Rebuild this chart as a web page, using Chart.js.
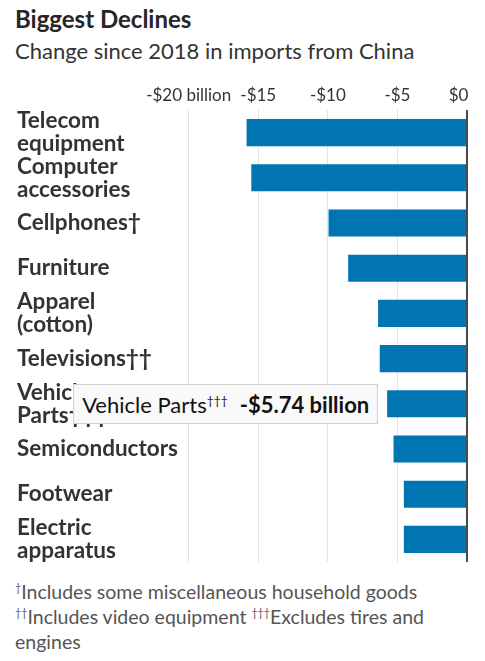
<!DOCTYPE html>
<html lang="en">
<head>
    <meta charset="UTF-8">
    <title>Biggest Declines</title>
    <script src="https://cdn.jsdelivr.net/npm/chart.js"></script>
    <style>
        body {
            margin: 0;
            width: 485px;
            height: 661px;
            background: #fff;
            font-family: Lato, sans-serif;
            color: #222;
            position: relative;
            overflow: hidden;
        }
        h1 {
            position: absolute;
            left: 15px;
            top: 4px;
            margin: 0;
            font-size: 24px;
            line-height: 30px;
            font-weight: 700;
            color: #262626;
        }
        .sub {
            position: absolute;
            left: 15px;
            top: 37px;
            font-size: 22px;
            line-height: 28px;
            color: #333;
        }
        #wrap {
            position: absolute;
            left: 0;
            top: 80px;
            width: 485px;
            height: 490px;
        }
        .notes {
            position: absolute;
            left: 15px;
            top: 579px;
            width: 440px;
            font-size: 19.5px;
            line-height: 25px;
            color: #555;
        }
        .notes sup, #tip sup {
            font-size: 0.55em;
            vertical-align: 0.7em;
            line-height: 0;
        }
        #tip {
            position: absolute;
            display: none;
            white-space: nowrap;
            background: #f9f9f9;
            border: 1px solid #cfcfcf;
            font-size: 22px;
            line-height: 24px;
            padding: 8px 8px 6px 8px;
            color: #111;
            pointer-events: none;
        }
        #tip b { margin-left: 12px; }
    </style>
</head>
<body>

<h1>Biggest Declines</h1>
<div class="sub">Change since 2018 in imports from China</div>
<div id="wrap"><canvas id="declines"></canvas></div>
<div id="tip"></div>
<div class="notes">
    <sup>†</sup>Includes some miscellaneous household goods<br>
    <sup>††</sup>Includes video equipment <sup>†††</sup>Excludes tires and engines
</div>

<script>
    // categories, top to bottom
    const categories = [
        ['Telecom', 'equipment'],
        ['Computer', 'accessories'],
        'Cellphones†',
        'Furniture',
        ['Apparel', '(cotton)'],
        'Televisions††',
        ['Vehicle', 'Parts†††'],
        'Semiconductors',
        'Footwear',
        ['Electric', 'apparatus']
    ];
    // change in imports, billions of dollars
    const changes = [-15.84, -15.5, -9.95, -8.54, -6.39, -6.27, -5.74, -5.28, -4.54, -4.54];
    const xTicks = [-20, -15, -10, -5, 0];
    const highlighted = 6;

    const tipEl = document.getElementById('tip');

    function fmt(v) {
        return (v < 0 ? '-$' : '$') + Math.abs(v).toFixed(2) + ' billion';
    }

    function tickLabel(v) {
        if (v === -20) return '-$20 billion';
        if (v === 0) return '$0\u2002\u2002';   // pushes the last label left of the zero line
        return '-$' + Math.abs(v);
    }

    // html tooltip placed to the left of the bar end
    function externalTip(context) {
        const tt = context.tooltip;
        if (tt.opacity === 0 || !tt.dataPoints || !tt.dataPoints.length) {
            tipEl.style.display = 'none';
            return;
        }
        const dp = tt.dataPoints[0];
        const lbl = [].concat(categories[dp.dataIndex]).join(' ');
        const name = lbl.replace(/(†+)/, '<sup>$1</sup>');
        tipEl.innerHTML = name + '<b>' + fmt(dp.raw) + '</b>';
        tipEl.style.display = 'block';
        const box = context.chart.canvas.getBoundingClientRect();
        const w = tipEl.offsetWidth, h = tipEl.offsetHeight;
        tipEl.style.left = (box.left + tt.caretX - w - 9) + 'px';
        tipEl.style.top = (box.top + tt.caretY - h / 2) + 'px';
    }

    const ctx = document.getElementById('declines').getContext('2d');
    const chart = new Chart(ctx, {
        type: 'bar',
        data: {
            labels: categories,
            datasets: [{
                data: changes,
                backgroundColor: '#0075b2',
                borderWidth: 0,
                barPercentage: 1,
                categoryPercentage: 0.6
            }]
        },
        options: {
            indexAxis: 'y',
            responsive: true,
            maintainAspectRatio: false,
            animation: false,
            events: [],
            layout: { padding: { left: 17, right: 18, top: 0, bottom: 8 } },
            plugins: {
                legend: { display: false },
                tooltip: { enabled: false, external: externalTip }
            },
            scales: {
                x: {
                    position: 'top',
                    min: -20,
                    max: 0,
                    afterBuildTicks: s => { s.ticks = xTicks.map(v => ({ value: v })); },
                    afterFit: s => { s.height = 30; s.paddingLeft = 0; s.paddingRight = 0; },
                    grid: {
                        drawTicks: false,
                        color: c => c.tick && c.tick.value === 0 ? '#4a4a4a' : '#e3e3e3',
                        lineWidth: c => c.tick && c.tick.value === 0 ? 2 : 1
                    },
                    border: { display: false },
                    ticks: {
                        padding: 4,
                        maxRotation: 0,
                        autoSkip: false,
                        color: '#333',
                        font: { family: 'Lato', size: 17 },
                        callback: v => tickLabel(v)
                    }
                },
                y: {
                    afterFit: s => { s.width = 171.7; s.paddingTop = 0; s.paddingBottom = 0; },
                    grid: { display: false },
                    border: { display: false },
                    ticks: {
                        autoSkip: false,
                        crossAlign: 'far',
                        padding: 0,
                        color: '#333',
                        font: { family: 'Lato', size: 22.5, weight: 'bold', lineHeight: '23px' }
                    }
                }
            }
        }
    });

    chart.tooltip.setActiveElements([{ datasetIndex: 0, index: highlighted }], { x: 0, y: 0 });
    chart.update();
</script>

</body>
</html>
